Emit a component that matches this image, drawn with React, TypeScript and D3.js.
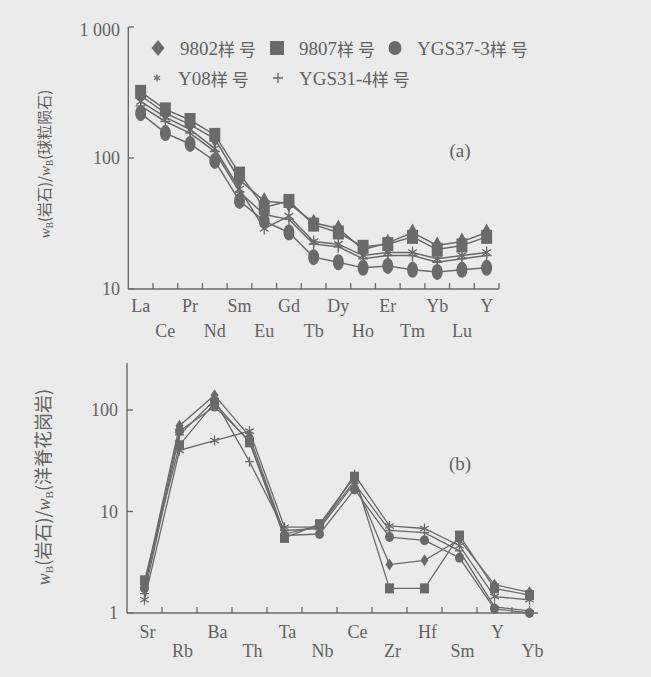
import * as d3 from "d3";
import React from "react";

// 稀土元素 (a)
const reeElements = ["La", "Ce", "Pr", "Nd", "Sm", "Eu", "Gd", "Tb", "Dy", "Ho", "Er", "Tm", "Yb", "Lu", "Y"];
const ree9802 = [300, 220, 180, 140, 68, 47, 45, 32, 29, 20, 22.5, 27, 21.5, 23, 27];
const ree9807 = [320, 235, 195, 150, 76, 42, 47, 31, 27, 21, 22, 25, 20, 21.5, 25];
const reeYGS373 = [220, 155, 128, 95, 47, 33, 27, 17.5, 16, 14.5, 15, 14, 13.5, 14, 14.5];
const reeY08 = [270, 205, 165, 118, 58, 29, 36, 23, 22, 18, 19, 19, 17, 18, 19];
const reeYGS314 = [250, 190, 155, 112, 55, 37, 34, 22, 21, 17, 18, 18, 16, 17, 18];

// 微量元素 (b)
const traceElements = ["Sr", "Rb", "Ba", "Th", "Ta", "Nb", "Ce", "Zr", "Hf", "Sm", "Y", "Yb"];
const tr9802 = [1.9, 70, 140, 55, 6.0, 7.2, 20, 3.0, 3.3, 5.3, 1.9, 1.6];
const tr9807 = [2.1, 45, 118, 48, 5.5, 7.5, 22, 1.75, 1.75, 5.8, 1.75, 1.5];
const trYGS373 = [1.75, 62, 108, 50, 5.8, 6.0, 16.5, 5.6, 5.2, 3.5, 1.1, 1.0];
const trY08 = [1.35, 40, 50, 62, 7.0, 7.0, 23, 7.2, 6.8, 4.6, 1.45, 1.35];
const trYGS314 = [1.55, 57, 125, 31, 6.5, 6.8, 19, 6.5, 6.2, 4.1, 1.15, 1.05];

const yTicksA = [10, 100, 1000];
const yTicksB = [1, 10, 100];

type Sym = "diamond" | "square" | "circle" | "asterisk" | "plus";

const seriesNames = ["9802样号", "9807样号", "YGS37-3样号", "Y08样号", "YGS31-4样号"];
const seriesSyms: Sym[] = ["diamond", "square", "circle", "asterisk", "plus"];

const BG = "#ebebeb";
const INK = "#6a6a6a";
const TXT = "#626262";
const SERIF = "'Liberation Serif', 'DejaVu Serif', serif";
const CJK = "'Noto Sans CJK SC', sans-serif";

// 标记符号
const Marker = ({ sym, x, y, w, h }: { sym: Sym; x: number; y: number; w: number; h: number }) => {
  if (sym === "diamond")
    return <path d={`M${x},${y - h / 2}L${x + w / 2},${y}L${x},${y + h / 2}L${x - w / 2},${y}Z`} fill={INK} />;
  if (sym === "square") return <rect x={x - w / 2} y={y - h / 2} width={w} height={h} fill={INK} />;
  if (sym === "circle") return <ellipse cx={x} cy={y} rx={w / 2} ry={h / 2} fill={INK} />;
  if (sym === "plus")
    return (
      <path d={`M${x - w / 2},${y}H${x + w / 2}M${x},${y - h / 2}V${y + h / 2}`} stroke={INK} strokeWidth={1.3} />
    );
  const arms = [90, 30, -30].map((a) => {
    const r = (a * Math.PI) / 180;
    const dx = (Math.cos(r) * w) / 2;
    const dy = (Math.sin(r) * h) / 2;
    return `M${x - dx},${y - dy}L${x + dx},${y + dy}`;
  });
  return <path d={arms.join("")} stroke={INK} strokeWidth={1.3} />;
};

const YLabel = ({ x, y, tail, size }: { x: number; y: number; tail: string; size: number }) => (
  <text transform={`translate(${x},${y}) rotate(-90)`} textAnchor="middle" fill={TXT} fontSize={size}>
    <tspan fontFamily={SERIF} fontStyle="italic">w</tspan>
    <tspan fontFamily={SERIF} fontSize={size * 0.62} dy={3}>B</tspan>
    <tspan fontFamily={CJK} dy={-3}>(岩石)/</tspan>
    <tspan fontFamily={SERIF} fontStyle="italic">w</tspan>
    <tspan fontFamily={SERIF} fontSize={size * 0.62} dy={3}>B</tspan>
    <tspan fontFamily={CJK} dy={-3}>{tail}</tspan>
  </text>
);

const Label = ({ x, y, children, anchor = "middle", size = 18 }: any) => (
  <text x={x} y={y} textAnchor={anchor} dominantBaseline="central" fill={TXT} fontSize={size} fontFamily={SERIF}>
    {children}
  </text>
);

export default function App() {
  // (a) 坐标
  const xA = d3.scaleBand().domain(reeElements).range([128.3, 499]);
  const yA = d3.scaleLog().domain([10, 1000]).range([289, 27]);
  const seriesA = [ree9802, ree9807, reeYGS373, reeY08, reeYGS314];

  // (b) 坐标
  const xB = d3.scaleBand().domain(traceElements).range([127, 547]);
  const yB = d3.scaleLog().domain([1, 100]).range([613, 410]);
  const seriesB = [tr9802, tr9807, trYGS373, trY08, trYGS314];

  const lineA = d3
    .line<number>()
    .x((_, i) => xA(reeElements[i])! + xA.bandwidth() / 2)
    .y((d) => yA(d));
  const lineB = d3
    .line<number>()
    .x((_, i) => xB(traceElements[i])! + xB.bandwidth() / 2)
    .y((d) => yB(d));

  const sizeA: Record<Sym, [number, number]> = {
    diamond: [10, 18],
    square: [11, 14],
    circle: [11, 16],
    asterisk: [10, 12],
    plus: [10, 12],
  };
  const sizeB: Record<Sym, [number, number]> = {
    diamond: [8, 12],
    square: [9, 10],
    circle: [9, 10],
    asterisk: [10, 10],
    plus: [9, 10],
  };

  const legendPos = [
    [158, 48],
    [277, 48],
    [395, 48],
    [157, 78],
    [278, 78],
  ];
  const legendSize: [number, number][] = [
    [13, 16],
    [14, 14],
    [13, 14],
    [7, 7],
    [10, 10],
  ];

  const bAxisTop = 363;

  return (
    <svg
      width={651}
      height={677}
      style={{ position: "absolute", left: 0, top: 0, display: "block", background: BG }}
    >
      <rect width={651} height={677} fill={BG} />

      {/* ---------- (a) ---------- */}
      <g>
        <line x1={128.3} x2={128.3} y1={yA(1000)} y2={289} stroke={INK} strokeWidth={1.4} />
        <line x1={128.3} x2={499} y1={289} y2={289} stroke={INK} strokeWidth={1.4} />
        {yTicksA.map((t) => (
          <g key={t}>
            <line x1={128.3} x2={134} y1={yA(t)} y2={yA(t)} stroke={INK} strokeWidth={1.4} />
            <Label x={120} y={t === 1000 ? yA(t) + 3 : yA(t)} anchor="end">
              {t === 1000 ? "1 000" : String(t)}
            </Label>
          </g>
        ))}
        {reeElements.map((e, i) => (
          <g key={e}>
            <line
              x1={xA(e)! + xA.bandwidth()}
              x2={xA(e)! + xA.bandwidth()}
              y1={289}
              y2={283}
              stroke={INK}
              strokeWidth={1.3}
            />
            <Label x={xA(e)! + xA.bandwidth() / 2} y={i % 2 === 0 ? 306 : 331}>
              {e}
            </Label>
          </g>
        ))}
        {seriesA.map((s, k) => (
          <path key={k} d={lineA(s)!} fill="none" stroke={INK} strokeWidth={1.5} />
        ))}
        {seriesA.map((s, k) =>
          s.map((v, i) => (
            <Marker
              key={`${k}-${i}`}
              sym={seriesSyms[k]}
              x={xA(reeElements[i])! + xA.bandwidth() / 2}
              y={yA(v)}
              w={sizeA[seriesSyms[k]][0]}
              h={sizeA[seriesSyms[k]][1]}
            />
          ))
        )}
        <Label x={460} y={150} size={19}>
          (a)
        </Label>
        <YLabel x={50} y={164} tail="(球粒陨石)" size={15} />

        {/* 图例 */}
        {seriesNames.map((n, k) => (
          <g key={n}>
            <Marker
              sym={seriesSyms[k]}
              x={legendPos[k][0]}
              y={legendPos[k][1]}
              w={legendSize[k][0]}
              h={legendSize[k][1]}
            />
            <text
              x={legendPos[k][0] + (k >= 3 ? 21 : 22)}
              y={legendPos[k][1]}
              dominantBaseline="central"
              fill={TXT}
              fontSize={19}
            >
              <tspan fontFamily={SERIF}>{n.replace("样号", "")}</tspan>
              <tspan fontFamily={CJK} fontSize={17}>样</tspan>
              <tspan fontFamily={CJK} fontSize={17} dx={4}>号</tspan>
            </text>
          </g>
        ))}
      </g>

      {/* ---------- (b) ---------- */}
      <g>
        <line x1={127} x2={127} y1={bAxisTop} y2={613} stroke={INK} strokeWidth={1.4} />
        <line x1={127} x2={538} y1={613} y2={613} stroke={INK} strokeWidth={1.4} />
        {yTicksB.map((t) => (
          <g key={t}>
            <line x1={127} x2={133} y1={yB(t)} y2={yB(t)} stroke={INK} strokeWidth={1.4} />
            <Label x={118} y={yB(t)} anchor="end">
              {String(t)}
            </Label>
          </g>
        ))}
        {traceElements.map((e, i) => (
          <g key={e}>
            {i < traceElements.length - 1 && (
              <line
                x1={xB(e)! + xB.bandwidth()}
                x2={xB(e)! + xB.bandwidth()}
                y1={613}
                y2={607}
                stroke={INK}
                strokeWidth={1.3}
              />
            )}
            <Label x={xB(e)! + xB.bandwidth() / 2 + 3} y={i % 2 === 0 ? 632 : 651}>
              {e}
            </Label>
          </g>
        ))}
        {seriesB.map((s, k) => (
          <path key={k} d={lineB(s)!} fill="none" stroke={INK} strokeWidth={1.3} />
        ))}
        {seriesB.map((s, k) =>
          s.map((v, i) => (
            <Marker
              key={`${k}-${i}`}
              sym={seriesSyms[k]}
              x={xB(traceElements[i])! + xB.bandwidth() / 2}
              y={yB(v)}
              w={sizeB[seriesSyms[k]][0]}
              h={sizeB[seriesSyms[k]][1]}
            />
          ))
        )}
        <Label x={460} y={463} size={19}>
          (b)
        </Label>
        <YLabel x={50} y={487} tail="(洋脊花岗岩)" size={18} />
      </g>
    </svg>
  );
}
